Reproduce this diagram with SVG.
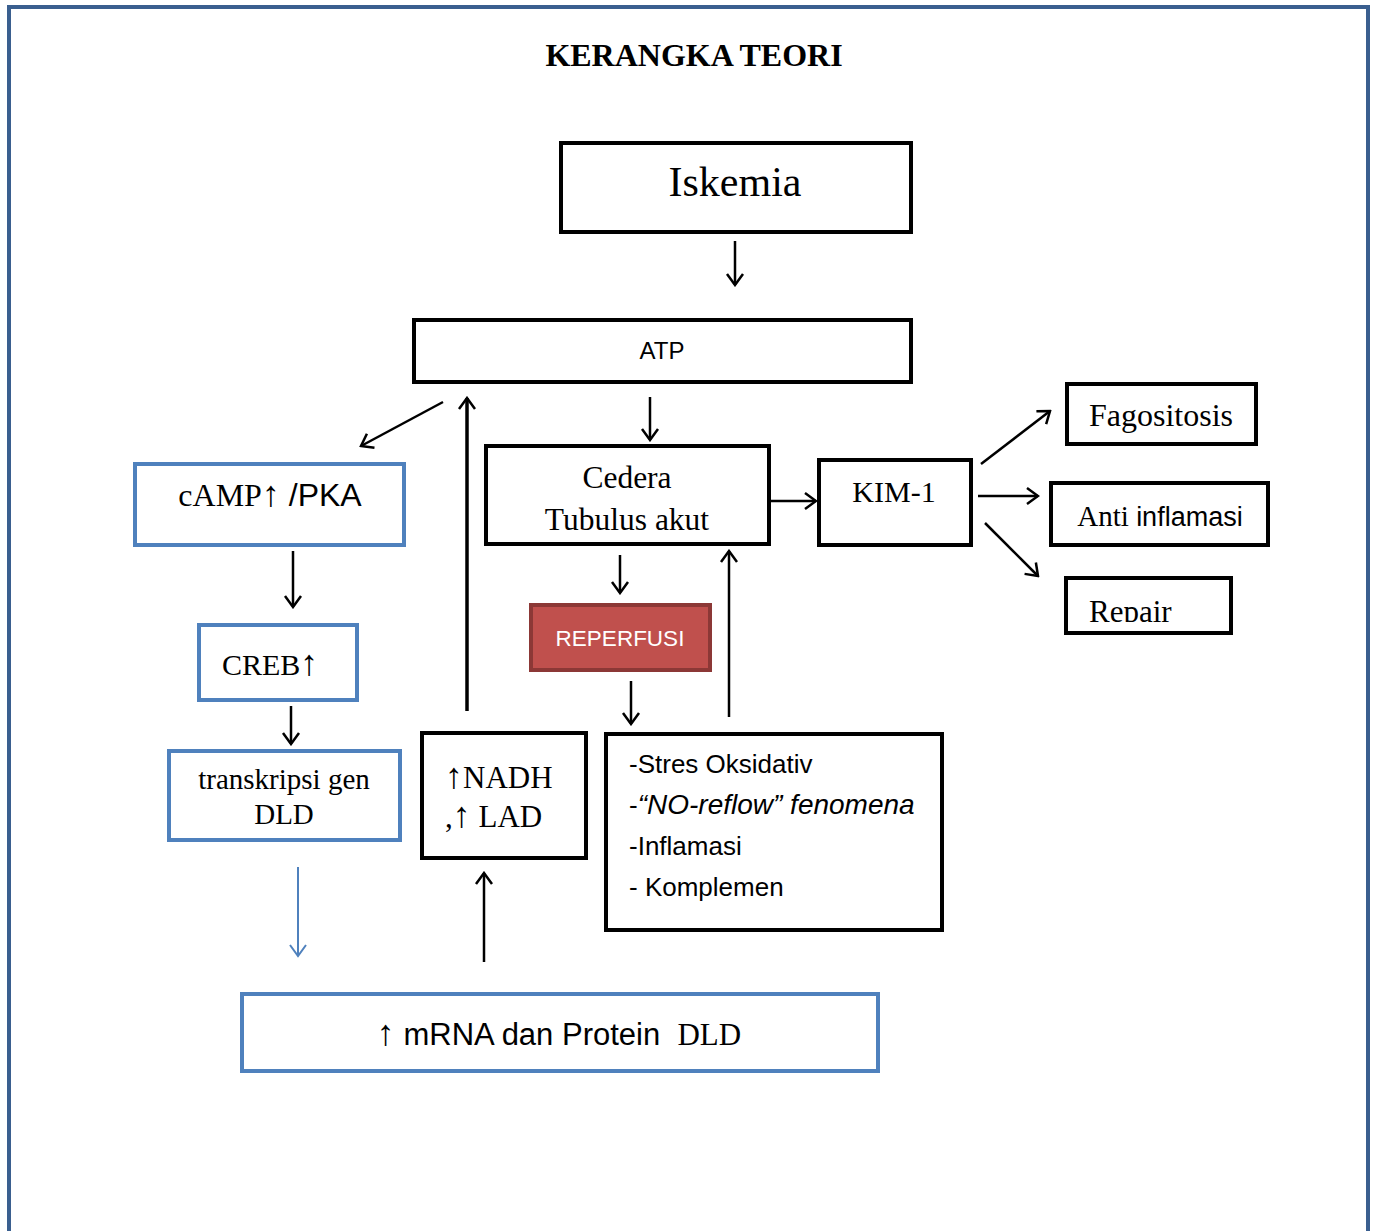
<svg xmlns="http://www.w3.org/2000/svg" width="1374" height="1231" viewBox="0 0 1374 1231">
<style>
.bx{fill:#fff;stroke:#000;stroke-width:4}
.bb{fill:#fff;stroke:#4f81bd;stroke-width:4}
.sf{font-family:"Liberation Serif","Times New Roman",serif;fill:#000}
.ss{font-family:"Liberation Sans",Arial,sans-serif;fill:#000}
.ar{font-family:"Liberation Serif","Times New Roman",serif;font-size:36px}
.c{stroke:#000;stroke-width:2.5;fill:none}
</style>
<defs>
<marker id="ah" markerUnits="userSpaceOnUse" viewBox="-14 -10 16 20" markerWidth="16" markerHeight="20" refX="0" refY="0" orient="auto">
<path d="M-11,-8 L0,0 L-11,8" fill="none" stroke="#000" stroke-width="2.5"/>
</marker>
<marker id="ahb" markerUnits="userSpaceOnUse" viewBox="-14 -10 16 20" markerWidth="16" markerHeight="20" refX="0" refY="0" orient="auto">
<path d="M-11,-8 L0,0 L-11,8" fill="none" stroke="#4f81bd" stroke-width="2"/>
</marker>
<clipPath id="repclip"><rect x="1066" y="578" width="165" height="44"/></clipPath>
</defs>
<rect width="1374" height="1231" fill="#fff"/>
<path d="M9,1231 V7 H1368 V1231" fill="none" stroke="#3a5f8f" stroke-width="4"/>
<text x="694" y="66" text-anchor="middle" class="sf" font-size="32" font-weight="bold">KERANGKA TEORI</text>

<g id="connectors">
<line class="c" x1="735" y1="241" x2="735" y2="285" marker-end="url(#ah)"/>
<line class="c" x1="650" y1="397" x2="650" y2="440" marker-end="url(#ah)"/>
<line class="c" x1="443" y1="402" x2="361" y2="446" marker-end="url(#ah)"/>
<line class="c" x1="467" y1="711" x2="467" y2="398" style="stroke-width:3.5" marker-end="url(#ah)"/>
<line class="c" x1="293" y1="551" x2="293" y2="607" marker-end="url(#ah)"/>
<line class="c" x1="291" y1="706" x2="291" y2="744" marker-end="url(#ah)"/>
<line x1="298" y1="867" x2="298" y2="956" stroke="#4f81bd" stroke-width="2" marker-end="url(#ahb)"/>
<line class="c" x1="484" y1="962" x2="484" y2="873" marker-end="url(#ah)"/>
<line class="c" x1="765" y1="501" x2="816" y2="501" marker-end="url(#ah)"/>
<line class="c" x1="981" y1="464" x2="1050" y2="411" marker-end="url(#ah)"/>
<line class="c" x1="978" y1="496" x2="1038" y2="496" marker-end="url(#ah)"/>
<line class="c" x1="985" y1="523" x2="1038" y2="576" marker-end="url(#ah)"/>
<line class="c" x1="620" y1="555" x2="620" y2="593" marker-end="url(#ah)"/>
<line class="c" x1="631" y1="681" x2="631" y2="724" marker-end="url(#ah)"/>
<line class="c" x1="729" y1="717" x2="729" y2="551" marker-end="url(#ah)"/>
</g>

<g id="iskemia">
<rect class="bx" x="561" y="143" width="350" height="89"/>
<text x="735" y="196" text-anchor="middle" class="sf" font-size="42">Iskemia</text>
</g>
<g id="atp">
<rect class="bx" x="414" y="320" width="497" height="62"/>
<text x="662" y="359" text-anchor="middle" class="ss" font-size="24">ATP</text>
</g>
<g id="camp">
<rect class="bb" x="135" y="464" width="269" height="81"/>
<text x="270" y="506" text-anchor="middle" font-size="32"><tspan class="sf">cAMP</tspan><tspan class="ar">↑</tspan><tspan class="ss"> /PKA</tspan></text>
</g>
<g id="creb">
<rect class="bb" x="199" y="625" width="158" height="75"/>
<text x="222" y="675" class="sf" font-size="30">CREB<tspan class="ar">↑</tspan></text>
</g>
<g id="transkripsi">
<rect class="bb" x="169" y="751" width="231" height="89"/>
<text x="284" y="789" text-anchor="middle" class="sf" font-size="29">transkripsi gen</text>
<text x="284" y="824" text-anchor="middle" class="sf" font-size="29">DLD</text>
</g>
<g id="mrna">
<rect class="bb" x="242" y="994" width="636" height="77"/>
<text x="559" y="1045" text-anchor="middle" font-size="31"><tspan class="ar">↑</tspan><tspan class="ss"> mRNA dan Protein&#160; </tspan><tspan class="sf">DLD</tspan></text>
</g>
<g id="nadh">
<rect class="bx" x="422" y="733" width="164" height="125"/>
<text x="445" y="788" class="sf" font-size="31"><tspan class="ar">↑</tspan>NADH</text>
<text x="445" y="827" class="sf" font-size="31">,<tspan class="ar">↑</tspan> LAD</text>
</g>
<g id="cedera">
<rect class="bx" x="486" y="446" width="283" height="98"/>
<text x="627" y="488" text-anchor="middle" class="sf" font-size="31.5">Cedera</text>
<text x="627" y="530" text-anchor="middle" class="sf" font-size="31.5">Tubulus akut</text>
</g>
<g id="kim1">
<rect class="bx" x="819" y="460" width="152" height="85"/>
<text x="894" y="502" text-anchor="middle" class="sf" font-size="30">KIM-1</text>
</g>
<g id="fagositosis">
<rect class="bx" x="1067" y="384" width="189" height="60"/>
<text x="1161" y="426" text-anchor="middle" class="sf" font-size="32">Fagositosis</text>
</g>
<g id="antiinflamasi">
<rect class="bx" x="1051" y="483" width="217" height="62"/>
<text x="1160" y="526" text-anchor="middle" font-size="29"><tspan class="sf">Anti </tspan><tspan class="ss" font-size="27">inflamasi</tspan></text>
</g>
<g id="repair">
<rect class="bx" x="1066" y="578" width="165" height="55"/>
<text x="1089" y="622" class="sf" font-size="31" clip-path="url(#repclip)">Repair</text>
</g>
<g id="reperfusi">
<rect x="531" y="605" width="179" height="65" fill="#c0504d" stroke="#8c3836" stroke-width="4"/>
<text x="620" y="646" text-anchor="middle" class="ss" font-size="22.5" style="fill:#fff">REPERFUSI</text>
</g>
<g id="efek">
<rect class="bx" x="606" y="734" width="336" height="196"/>
<text x="629" y="773" class="ss" font-size="26">-Stres Oksidativ</text>
<text x="629" y="814" class="ss" font-size="26">-<tspan font-style="italic" font-size="28">“NO-reflow” fenomena</tspan></text>
<text x="629" y="855" class="ss" font-size="26">-Inflamasi</text>
<text x="629" y="896" class="ss" font-size="26">- Komplemen</text>
</g>
</svg>
